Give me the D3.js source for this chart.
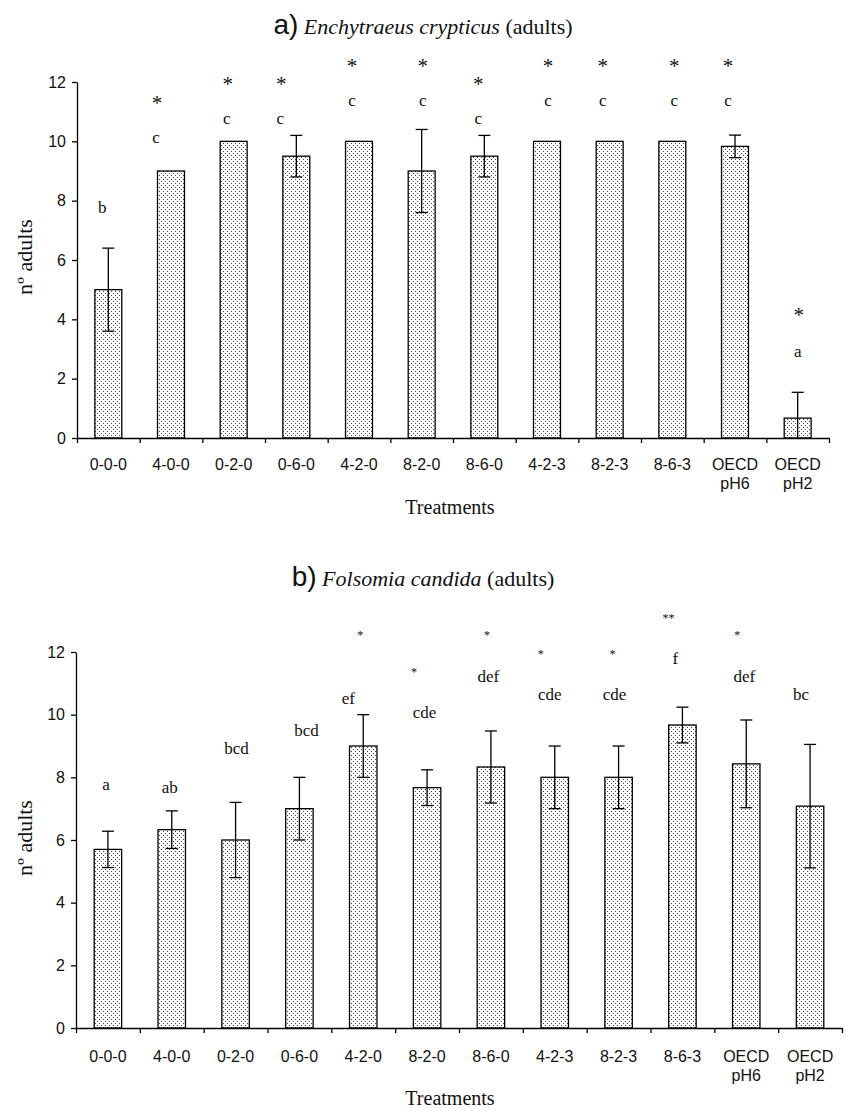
<!DOCTYPE html>
<html>
<head>
<meta charset="utf-8">
<script src="https://cdn.jsdelivr.net/npm/d3@7"></script>
<style>
  body { margin: 0; background: #fff; }
  svg text { fill: #111; }
</style>
</head>
<body>
<div id="chart"></div>
<script>
// treatments shared by both panels
var treatments = ["0-0-0", "4-0-0", "0-2-0", "0-6-0", "4-2-0", "8-2-0", "8-6-0", "4-2-3", "8-2-3", "8-6-3", "OECD pH6", "OECD pH2"];
var yTicks = [0, 2, 4, 6, 8, 10, 12];

// a) Enchytraeus crypticus
var enchMean = [5.0, 9.0, 10.0, 9.5, 10.0, 9.0, 9.5, 10.0, 10.0, 10.0, 9.83, 0.67];
var enchErr = [1.4, 0, 0, 0.7, 0, 1.4, 0.7, 0, 0, 0, 0.38, 0.87];
var enchLetters = ["b", "c", "c", "c", "c", "c", "c", "c", "c", "c", "c", "a"];
var enchStars = ["", "*", "*", "*", "*", "*", "*", "*", "*", "*", "*", "*"];
var enchLetterAt = [7.57, 9.95, 10.57, 10.57, 11.18, 11.18, 10.57, 11.18, 11.18, 11.18, 11.18, 2.74];
var enchStarAt = [null, 11.4, 12.02, 12.02, 12.63, 12.63, 12.02, 12.63, 12.63, 12.63, 12.63, 4.23];

// b) Folsomia candida
var folsMean = [5.7, 6.33, 6.0, 7.0, 9.0, 7.67, 8.33, 8.0, 8.0, 9.67, 8.43, 7.08];
var folsErr = [0.58, 0.6, 1.2, 1.0, 1.0, 0.57, 1.15, 1.0, 1.0, 0.57, 1.4, 1.97];
var folsLetters = ["a", "ab", "bcd", "bcd", "ef", "cde", "def", "cde", "cde", "f", "def", "bc"];
var folsStars = ["", "", "", "", "*", "*", "*", "*", "*", "**", "*", ""];
var folsLetterAt = [7.6, 7.5, 8.75, 9.33, 10.34, 9.9, 11.05, 10.47, 10.47, 11.62, 11.05, 10.47];
var folsStarAt = [null, null, null, null, 12.6, 11.43, 12.6, 12.0, 12.0, 13.15, 12.58, null];

var W = 846, H = 1111;
var serif = "'Liberation Serif', 'Times New Roman', serif";
var sans = "'Liberation Sans', Arial, sans-serif";

var svg = d3.select("#chart").append("svg").attr("width", W).attr("height", H);

// dotted fill like the excel 5% pattern
var pat = svg.append("defs").append("pattern")
    .attr("id", "dots").attr("patternUnits", "userSpaceOnUse")
    .attr("width", 4).attr("height", 4);
pat.append("rect").attr("width", 4).attr("height", 4).attr("fill", "#fff");
pat.append("rect").attr("x", 1).attr("y", 1).attr("width", 1).attr("height", 1).attr("fill", "#444");
pat.append("rect").attr("x", 3).attr("y", 3).attr("width", 1).attr("height", 1).attr("fill", "#444");

function drawPanel(p) {
  var n = treatments.length;
  var x = d3.scaleBand().domain(treatments).range([p.x0, p.x1]).paddingInner(0).paddingOuter(0);
  var xb = d3.scaleLinear().domain([0, n]).range([p.x0, p.x1]);
  var y = d3.scaleLinear().domain([0, 12]).range([p.yBot, p.yTop]);
  var bw = x.bandwidth() * 0.43;
  var cx = function(d) { return x(d) + x.bandwidth() / 2; };

  var g = svg.append("g");

  // title
  var t = g.append("text").attr("x", p.titleX).attr("y", p.titleY)
      .attr("text-anchor", "middle").style("font-family", serif).style("font-size", "22px");
  t.append("tspan").text(p.tag).style("font-family", "'Liberation Sans Narrow', 'Arial Narrow', " + sans).style("font-size", "28px");
  t.append("tspan").text(" " + p.species).style("font-style", "italic");
  t.append("tspan").text(" (adults)");

  // bars
  g.selectAll(".bar").data(treatments).enter().append("rect")
      .attr("x", function(d) { return cx(d) - bw / 2; })
      .attr("y", function(d, i) { return y(p.mean[i]); })
      .attr("width", bw)
      .attr("height", function(d, i) { return y(0) - y(p.mean[i]); })
      .attr("fill", "url(#dots)")
      .attr("stroke", "#000").attr("stroke-width", 1.3);

  // error bars
  treatments.forEach(function(d, i) {
    var e = p.err[i];
    if (!e) return;
    var hi = p.mean[i] + e, lo = Math.max(0, p.mean[i] - e);
    var c = cx(d);
    g.append("line").attr("x1", c).attr("x2", c).attr("y1", y(hi)).attr("y2", y(lo))
        .attr("stroke", "#000").attr("stroke-width", 1.3);
    g.append("line").attr("x1", c - 6).attr("x2", c + 6).attr("y1", y(hi)).attr("y2", y(hi))
        .attr("stroke", "#000").attr("stroke-width", 1.3);
    if (p.mean[i] - e > 0) {
      g.append("line").attr("x1", c - 6).attr("x2", c + 6).attr("y1", y(lo)).attr("y2", y(lo))
          .attr("stroke", "#000").attr("stroke-width", 1.3);
    }
  });

  // significance letters and stars
  treatments.forEach(function(d, i) {
    g.append("text").attr("x", cx(d) + p.letterDx[i]).attr("y", y(p.letterAt[i]))
        .attr("text-anchor", "middle").style("font-family", serif).style("font-size", "17px")
        .text(p.letters[i]);
    if (p.stars[i]) {
      g.append("text").attr("x", cx(d) + p.starDx[i]).attr("y", y(p.starAt[i]) + 0.47 * p.starSize)
          .attr("text-anchor", "middle").style("font-family", serif).style("font-size", p.starSize + "px")
          .text(p.stars[i]);
    }
  });

  // y axis
  var ya = g.append("g").attr("transform", "translate(" + p.x0 + ",0)")
      .call(d3.axisLeft(y).tickValues(yTicks).tickSize(5).tickSizeOuter(0).tickPadding(6));
  ya.selectAll("text").style("font-family", sans).style("font-size", "16px").attr("fill", "#111");
  ya.selectAll("path,line").attr("stroke", "#000").attr("stroke-width", 1.3);

  // x axis with ticks at category boundaries
  var xa = g.append("g").attr("transform", "translate(0," + p.yBot + ")")
      .call(d3.axisBottom(xb).ticks(n).tickSize(5).tickSizeOuter(0).tickFormat(""));
  xa.selectAll("path,line").attr("stroke", "#000").attr("stroke-width", 1.3);

  treatments.forEach(function(d) {
    var parts = d.split(" ");
    var tx = g.append("text").attr("x", cx(d)).attr("y", p.yBot + p.labelOff)
        .attr("text-anchor", "middle").style("font-family", sans).style("font-size", "16px");
    parts.forEach(function(s, k) {
      tx.append("tspan").attr("x", cx(d)).attr("dy", k ? 19 : 0).text(s);
    });
  });

  g.append("text").attr("x", 450).attr("y", p.xTitleY).attr("text-anchor", "middle")
      .style("font-family", serif).style("font-size", "20px").text("Treatments");

  g.append("text").attr("transform", "translate(32," + p.yTitleY + ") rotate(-90)")
      .attr("text-anchor", "middle").style("font-family", serif).style("font-size", "22px")
      .text("nº adults");
}

drawPanel({
  tag: "a)", species: "Enchytraeus crypticus", titleX: 423, titleY: 34,
  x0: 77, x1: 829, yTop: 82, yBot: 438, labelOff: 32, xTitleY: 514, yTitleY: 257,
  mean: enchMean, err: enchErr, letters: enchLetters, stars: enchStars,
  letterAt: enchLetterAt, starAt: enchStarAt, starSize: 21,
  letterDx: [-6, -15, -7, -16, -7, 1, -6, 1, -7, 2, -7, 0],
  starDx: [-6, -14, -6, -15, -7, 1, -6, 1, -7, 2, -7, 1]
});

drawPanel({
  tag: "b)", species: "Folsomia candida", titleX: 423, titleY: 586,
  x0: 76, x1: 842, yTop: 652, yBot: 1028, labelOff: 34, xTitleY: 1105, yTitleY: 838,
  mean: folsMean, err: folsErr, letters: folsLetters, stars: folsStars,
  letterAt: folsLetterAt, starAt: folsStarAt, starSize: 12,
  letterDx: [-2, -2, 1, 7, -15, -2.5, -2.5, -5, -4, -7, -2, -9],
  starDx: [0, 0, 0, 0, -3, -13, -4, -14, -6, -14, -9, 0]
});
</script>
</body>
</html>
